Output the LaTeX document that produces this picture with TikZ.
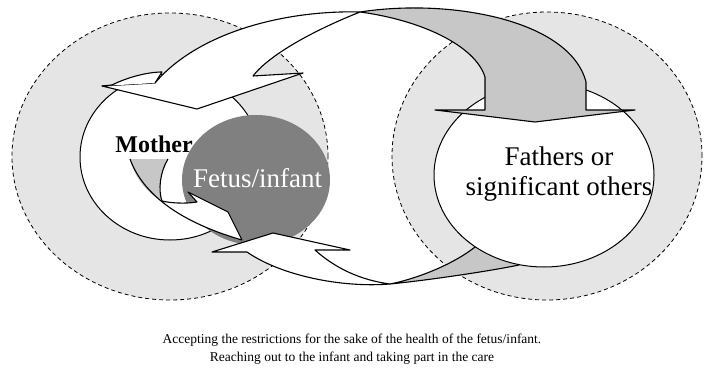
\documentclass[tikz,border=0pt]{standalone}
\usepackage{fontspec}
\setmainfont{Liberation Serif}
\begin{document}
\begin{tikzpicture}[x=1pt, y=-1pt,
    zone/.style={draw, dash pattern=on 4pt off 3pt, line width=0.8pt, fill=black!10},
    person/.style={draw, line width=1pt, fill=white},
    band/.style={draw, line width=1.1pt, fill=white, line join=round},
    backband/.style={draw, line width=1.1pt, fill=black!22, line join=round},
    big/.style={font=\fontsize{27}{30}\selectfont}]
    % picture from (0,0) to (704,372), y grows downwards

    \useasboundingbox (0,0) rectangle (704,372);

    % dotted zones
    \draw[zone] (170,156.5) ellipse [x radius=158pt, y radius=143.5pt];
    \draw[zone] (547,156) ellipse [x radius=155pt, y radius=144pt];

    % mother
    \draw[person] (170,157) ellipse [x radius=90pt, y radius=83pt];

    % small arrow, strip that runs behind the fetus
    \fill[white] (130,159) -- (190,159) -- (190,205) -- (162,201) -- cycle;

    % fetus/infant
    \fill[black!50] (256,180) ellipse [x radius=74pt, y radius=65pt];

    % small arrow, front part
    \fill[white] (162,201) .. controls (170,203) and (185,204) .. (197,202) -- (188,192) -- (228,212) -- (242,240)
        .. controls (190,225) and (145,200) .. (130,159) -- cycle;
    \fill[black!22] (130,159) -- (168,159) .. controls (160,172) and (158,190) .. (162,201)
        .. controls (150,195) and (135,180) .. (130,159) -- cycle;
    \draw[line width=1.1pt] (168,159) .. controls (160,172) and (158,190) .. (162,201);
    \draw[line width=1.1pt, line join=round] (162,201) .. controls (170,203) and (185,204) .. (197,202)
        -- (188,192) -- (228,212) -- (242,240) .. controls (190,225) and (145,200) .. (130,159);

    % lower grey band (goes under the fathers)
    \draw[backband] (390,284) .. controls (420,278) and (455,263) .. (475,247) -- (500,230) -- (530,235)
        -- (519,265) .. controls (490,271) and (430,280) .. (390,284) -- cycle;

    % fathers or significant others
    \draw[person] (544,175) ellipse [x radius=110pt, y radius=92pt];

    % upper grey band with its arrow head
    \draw[backband] (360,12) .. controls (450,-2) and (570,20) .. (586,82) -- (586,110) -- (635,110)
        -- (535,122) -- (435,110) -- (485,110) -- (485,77) .. controls (475,45) and (420,20) .. (360,12) -- cycle;

    % upper white band, pointing back to the mother
    \draw[band] (102,86) -- (197,109) -- (303,73) -- (253,76) .. controls (265,60) and (300,36) .. (360,12)
        .. controls (290,10) and (200,30) .. (155,83) -- cycle;
    \draw[band] (102,86) -- (112,85) .. controls (128,77) and (148,72) .. (162,72) -- (155,83);

    % lower white band, pointing back to the mother
    \draw[band] (212,252) -- (273,233) -- (350,250) -- (315,250) .. controls (335,268) and (360,280) .. (390,284)
        .. controls (340,288) and (280,275) .. (247,252) -- cycle;

    % Labels
    \node[font=\fontsize{24}{30}\selectfont\bfseries, anchor=base] (mother) at (154,152) {Mother};
    \node[big, text=white, anchor=base] (fetus) at (257.5,187) {Fetus/infant};
    \node[big, align=center] (fathers) at (559,174) {Fathers or\\significant others};

    % caption
    \node[font=\fontsize{13.5}{18}\selectfont, align=center] (caption) at (352,349)
        {Accepting the restrictions for the sake of the health of the fetus/infant.\\
         Reaching out to the infant and taking part in the care};
\end{tikzpicture}
\end{document}
